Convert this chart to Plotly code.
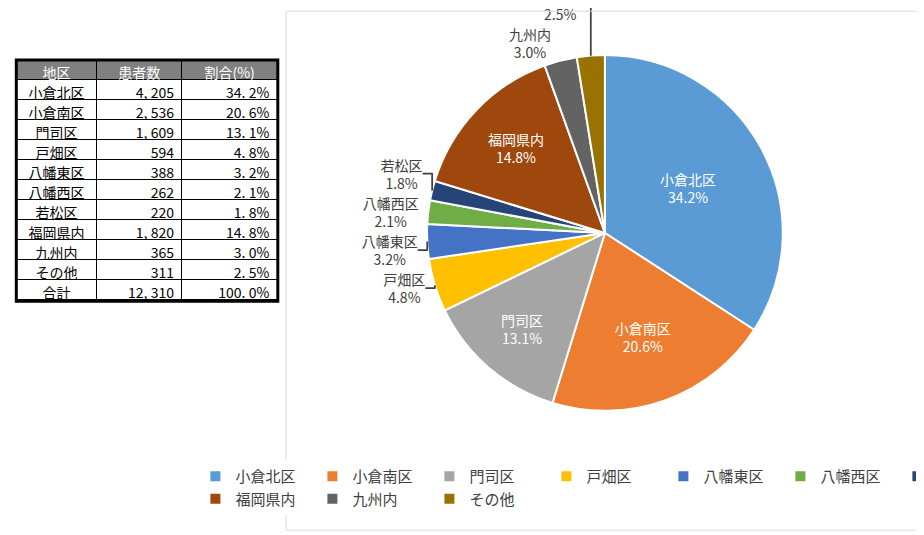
import plotly.graph_objects as go

regions = ["小倉北区","小倉南区","門司区","戸畑区","八幡東区","八幡西区","若松区","福岡県内","九州内","その他"]
patients = [4205,2536,1609,594,388,262,220,1820,365,311]
shares = ["34.2%","20.6%","13.1%","4.8%","3.2%","2.1%","1.8%","14.8%","3.0%","2.5%"]
total_label = "合計"
total_patients = "12,310"
total_share = "100.0%"
header = ["地区","患者数","割合(%)"]

colors = ["#5B9BD5","#ED7D31","#A5A5A5","#FFC000","#4472C4","#70AD47","#264478","#9E480E","#636363","#997300"]
inside = [True,True,True,False,False,False,False,True,False,False]
FONT = "Noto Sans CJK JP"

fig = go.Figure()
fig.add_trace(go.Table(
    domain=dict(x=[0.009,0.292], y=[0.40,0.903]),
    columnwidth=[80,85,95],
    header=dict(values=header, fill_color="#808080", line_color="black",
                font=dict(color="white", size=14, family=FONT), height=20, align="center"),
    cells=dict(values=[regions+[total_label],
                       [f"{v:,}".replace(",", ", ") for v in patients]+[total_patients.replace(",", ", ")],
                       [s.replace(".", ". ") for s in shares]+[total_share.replace(".", ". ")]],
               fill_color="white", line_color="black",
               font=dict(color="black", size=14, family=FONT), height=20,
               align=["center","right","right"]),
))
fig.add_trace(go.Pie(
    labels=regions, values=patients, sort=False, direction="clockwise", rotation=0,
    marker=dict(colors=colors, line=dict(color="white", width=2)),
    texttemplate="%{label}<br>%{percent:.1%}",
    textposition=["inside" if i else "outside" for i in inside],
    insidetextorientation="horizontal",
    insidetextfont=dict(color="white", size=14, family=FONT),
    outsidetextfont=dict(color="#404040", size=14, family=FONT),
    domain=dict(x=[0.453,0.839], y=[0.247,0.912]),
    hoverinfo="label+value+percent",
))
fig.update_layout(
    width=924, height=535, margin=dict(l=0,r=0,t=0,b=0, autoexpand=False),
    paper_bgcolor="white", font=dict(family=FONT),
    legend=dict(orientation="h", x=0.646, xanchor="center", y=0.155, yanchor="top",
                font=dict(size=15, color="#404040", family=FONT), entrywidth=72,
                itemclick=False),
    shapes=[dict(type="rect", xref="paper", yref="paper", x0=0.301, x1=0.99, y0=0.024, y1=0.994,
                 line=dict(color="#D9D9D9", width=1)),
            dict(type="rect", xref="paper", yref="paper", x0=0.009, x1=0.292, y0=0.452, y1=0.903,
                 line=dict(color="black", width=3))],
)
fig.write_html("out.html")
